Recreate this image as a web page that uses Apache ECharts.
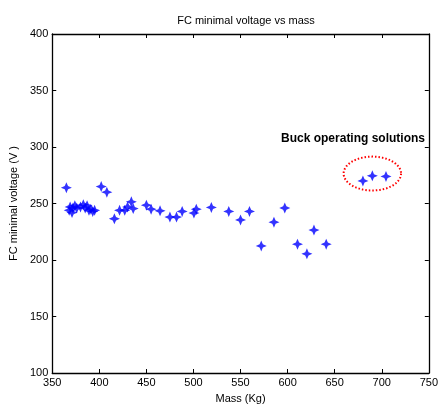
<!DOCTYPE html>
<html><head><meta charset="utf-8">
<script src="https://cdn.jsdelivr.net/npm/echarts@6/dist/echarts.min.js"></script>
<style>html,body{margin:0;padding:0;background:#fff}#c{width:441px;height:410px}</style>
</head><body><div id="c"></div>
<script>
var massValues = [365, 368, 369, 371, 372, 374, 376, 380, 383, 385, 387, 389, 391, 393, 395,
  402, 408, 416, 421.5, 427, 430, 434, 436, 450, 455, 464.5, 475, 482, 488, 500.5, 503, 519, 537.5, 550, 559.5,
  572, 585.5, 597, 610.5, 620.5, 628, 641, 680, 690, 704.5];
var voltageValues = [264, 244, 247, 242, 246, 248, 246, 247, 249, 246, 248, 244, 245, 243, 244,
  265, 260, 236.5, 244, 244, 247, 251.5, 245.5, 248.5, 245, 243.5, 238, 238, 243, 241.5, 245, 246.5, 243, 235.5, 243,
  212.5, 233.5, 246, 214, 205.5, 226.5, 214, 270, 274.5, 274];
var xTicks = [350, 400, 450, 500, 550, 600, 650, 700, 750];
var yTicks = [100, 150, 200, 250, 300, 350, 400];
var annotationText = 'Buck operating solutions';
var annotationPos = [593, 307];
var ellipse = [690, 276.5, 30.5, 15];

var pts = massValues.map(function(m, i){ return [m, voltageValues[i]]; });
var star = 'path://M0,-10 L3,-3 L10,0 L3,3 L0,10 L-3,3 L-10,0 L-3,-3 Z';
var font = 'Liberation Sans, Arial, sans-serif';
var axisLine = {lineStyle:{color:'#000', width:1.3}};
var chart = echarts.init(document.getElementById('c'));
chart.setOption({
  animation:false,
  title:{text:'FC minimal voltage vs mass', left:241, top:10, textAlign:'center',
    textStyle:{fontFamily:font, fontSize:11, fontWeight:'normal', color:'#000'}},
  grid:{left:52, right:9, top:34, bottom:37},
  xAxis:[{type:'value', min:xTicks[0], max:xTicks[xTicks.length-1], interval:50, position:'bottom',
    name:'Mass (Kg)', nameLocation:'middle', nameGap:20,
    nameTextStyle:{fontFamily:font, fontSize:11, color:'#000'},
    axisLine:axisLine, axisTick:{inside:true, length:4, lineStyle:{color:'#000'}},
    axisLabel:{fontFamily:font, fontSize:11, color:'#000', margin:4}, splitLine:{show:false}},
   {type:'value', min:xTicks[0], max:xTicks[xTicks.length-1], interval:50, position:'top',
    axisLine:axisLine, axisTick:{inside:true, length:4, lineStyle:{color:'#000'}},
    axisLabel:{show:false}, splitLine:{show:false}}],
  yAxis:[{type:'value', min:yTicks[0], max:yTicks[yTicks.length-1], interval:50, position:'left',
    name:'FC minimal voltage (V )', nameLocation:'middle', nameGap:32,
    nameTextStyle:{fontFamily:font, fontSize:11, color:'#000'},
    axisLine:axisLine, axisTick:{inside:true, length:4, lineStyle:{color:'#000'}},
    axisLabel:{fontFamily:font, fontSize:11, color:'#000', margin:4}, splitLine:{show:false}},
   {type:'value', min:yTicks[0], max:yTicks[yTicks.length-1], interval:50, position:'right',
    axisLine:axisLine, axisTick:{inside:true, length:4, lineStyle:{color:'#000'}},
    axisLabel:{show:false}, splitLine:{show:false}}],
  series:[
    {type:'scatter', data:pts, symbol:star, symbolSize:11, itemStyle:{color:'#0000ff'}, z:3},
    {type:'custom', data:[ellipse], renderItem:function(params, api){
      var c = api.coord([api.value(0), api.value(1)]);
      var e = api.coord([api.value(0)+api.value(2), api.value(1)+api.value(3)]);
      var rx = e[0]-c[0], ry = c[1]-e[1];
      var p = [];
      for (var k=0;k<=72;k++){ var a=k/72*Math.PI*2; p.push([c[0]+rx*Math.cos(a), c[1]+ry*Math.sin(a)]); }
      return {type:'polyline', shape:{points:p}, style:{stroke:'#ff0000', lineWidth:2, lineDash:[1.5,2], fill:null}};
    }, z:2},
    {type:'custom', data:[annotationPos], renderItem:function(params, api){
      var c = api.coord([api.value(0), api.value(1)]);
      return {type:'text', x:c[0], y:c[1], style:{text:annotationText, fontFamily:font, fontSize:12, fontWeight:'bold',
        fill:'#000', textAlign:'left', textVerticalAlign:'middle'}};
    }}
  ]
});
</script></body></html>
